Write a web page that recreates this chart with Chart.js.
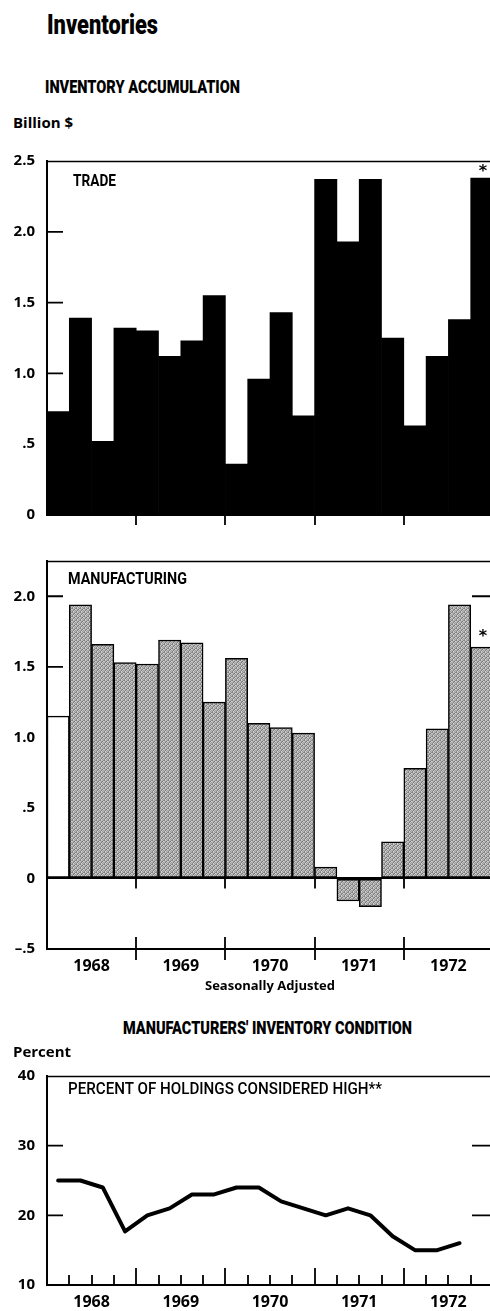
<!DOCTYPE html>
<html>
<head>
<meta charset="utf-8">
<script src="https://cdn.jsdelivr.net/npm/chart.js@4.4.1/dist/chart.umd.min.js"></script>
<style>
  html, body { margin: 0; padding: 0; background: #fff; }
  body { position: relative; width: 490px; height: 1311px; overflow: hidden; }
  .t { position: absolute; white-space: nowrap; color: #000; line-height: 1; transform-origin: 0 0; }
  .narrow { font-family: Roboto, "Liberation Sans", sans-serif; font-weight: 900; }
  .plain { font-family: "Open Sans", "DejaVu Sans", sans-serif; font-weight: bold; }
  canvas { position: absolute; left: 0; }
</style>
</head>
<body>
<div class="t narrow" data-w="111" style="left:47px; top:11px; font-size:28px;">Inventories</div>
<div class="t narrow" data-w="195" style="left:45px; top:78px; font-size:18px;">INVENTORY ACCUMULATION</div>
<div class="t plain" style="left:13px; top:115px; font-size:15px;">Billion $</div>

<canvas id="trade" width="500" height="400" style="top:140px;"></canvas>
<canvas id="mfg" width="500" height="470" style="top:540px;"></canvas>
<canvas id="held" width="500" height="256" style="top:1055px;"></canvas>

<div class="t narrow" data-w="43" style="left:73px; top:173px; font-size:16px; font-weight:bold;">TRADE</div>
<div class="t narrow" data-w="119" style="left:68px; top:570px; font-size:17px; font-weight:bold;">MANUFACTURING</div>
<div class="t narrow" data-w="289" style="left:123px; top:1019px; font-size:18px;">MANUFACTURERS' INVENTORY CONDITION</div>
<div class="t plain" style="left:13px; top:1044px; font-size:15px;">Percent</div>
<div class="t narrow" data-w="314" style="left:68px; top:1080px; font-size:17px; font-weight:500;">PERCENT OF HOLDINGS CONSIDERED HIGH**</div>

<script>
// Quarterly periods, 1968 Q1 through 1972 Q4
const years = ['1968', '1969', '1970', '1971', '1972'];
const quarters = years.flatMap(y => ['Q1', 'Q2', 'Q3', 'Q4'].map(q => y + ' ' + q));

// Inventory accumulation, billion dollars, seasonally adjusted annual rate
const tradeValues = [0.73, 1.39, 0.52, 1.32, 1.30, 1.12, 1.23, 1.55,
                     0.36, 0.96, 1.43, 0.70, 2.37, 1.93, 2.37, 1.25,
                     0.63, 1.12, 1.38, 2.38];
const mfgValues   = [1.15, 1.94, 1.66, 1.53, 1.52, 1.69, 1.67, 1.25,
                     1.56, 1.10, 1.07, 1.03, 0.08, -0.16, -0.20, 0.26,
                     0.78, 1.06, 1.94, 1.64];

// Percent of manufacturers' holdings considered high
const heldHigh = [25, 25, 24, 17.7, 20, 21, 23, 23,
                  24, 24, 22, 21, 20, 21, 20, 17,
                  15, 15, 16, null];

// Value-axis tick labels
const tradeTicks = [0, 0.5, 1.0, 1.5, 2.0, 2.5];
const mfgTicks = [-0.5, 0, 0.5, 1.0, 1.5, 2.0];
const heldTicks = [10, 20, 30, 40];

// Condensed headings: squeeze each heading horizontally to its set width
document.querySelectorAll('.t[data-w]').forEach(el => {
  const w = el.getBoundingClientRect().width;
  const target = parseFloat(el.dataset.w);
  if (w > 0) el.style.transform = 'scaleX(' + (target / w).toFixed(4) + ')';
});

const INK = '#000';
const tickFont = { family: 'Open Sans', weight: 'bold', size: 15 };
const yearFont = { family: 'Open Sans', weight: 'bold', size: 16 };

function fmtBillion(v) {
  if (v === 0) return '0';
  const a = Math.abs(v);
  const s = a < 1 ? String(a).replace(/^0/, '') : a.toFixed(1);
  return (v < 0 ? '\u2013' : '') + s;
}

// Fine halftone used for the manufacturing bars
function halftone(ctx) {
  const tile = document.createElement('canvas');
  tile.width = 4; tile.height = 4;
  const g = tile.getContext('2d');
  const shades = [
    ['#7e7e7e', '#cccccc', '#b4b4b4', '#8c8c8c'],
    ['#c2c2c2', '#969696', '#787878', '#d2d2d2'],
    ['#b0b0b0', '#7c7c7c', '#c8c8c8', '#a2a2a2'],
    ['#8a8a8a', '#d4d4d4', '#9a9a9a', '#bababa']
  ];
  for (let r = 0; r < 4; r++) for (let c = 0; c < 4; c++) {
    g.fillStyle = shades[r][c];
    g.fillRect(c, r, 1, 1);
  }
  return ctx.createPattern(tile, 'repeat');
}

// Frame line on top, short inner value ticks, and period marks along the axes
const frameMarks = {
  id: 'frameMarks',
  beforeDatasetsDraw(chart, args, opts) {
    const { ctx, chartArea: a, scales } = chart;
    const y = scales.y;
    ctx.save();
    ctx.strokeStyle = INK;
    ctx.lineWidth = 1.4;
    ctx.beginPath();
    ctx.moveTo(a.left, a.top + 0.5);
    ctx.lineTo(a.right, a.top + 0.5);
    ctx.stroke();
    ctx.lineWidth = 1.8;
    ctx.beginPath();
    (opts.inner || []).forEach(v => {
      const py = y.getPixelForValue(v);
      ctx.moveTo(a.left, py); ctx.lineTo(a.left + 16, py);
      ctx.moveTo(a.right - 21, py); ctx.lineTo(a.right, py);
    });
    ctx.stroke();
    ctx.restore();
  },
  afterDatasetsDraw(chart, args, opts) {
    const { ctx, scales } = chart;
    const x = scales.x, y = scales.y;
    const n = x.getLabels().length;
    ctx.save();
    ctx.strokeStyle = INK;
    ctx.lineWidth = 1.8;
    ctx.beginPath();
    (opts.cuts || []).forEach(c => {
      const py = y.getPixelForValue(c.at);
      for (let i = 1; i < n; i++) {
        const yearEdge = i % 4 === 0;
        if (!yearEdge && !c.quarterUp) continue;
        const px = Math.round((x.getPixelForValue(i - 1) + x.getPixelForValue(i)) / 2);
        const up = yearEdge ? (c.up || 0) : c.quarterUp;
        const down = yearEdge ? (c.down || 0) : 0;
        ctx.moveTo(px, py - up);
        ctx.lineTo(px, py + down);
      }
    });
    ctx.stroke();
    // preliminary-figure marker over the latest bar
    if (opts.star) {
      const meta = chart.getDatasetMeta(0);
      const el = meta.data[meta.data.length - 1];
      ctx.fillStyle = INK;
      ctx.font = 'bold 16px "DejaVu Sans", sans-serif';
      ctx.textAlign = 'center';
      ctx.textBaseline = 'middle';
      ctx.fillText('*', el.x + opts.star.dx, el.y - opts.star.dy);
    }
    ctx.restore();
  }
};

function valueAxis(min, max, ticks, fmt, grid) {
  return {
    min, max,
    afterBuildTicks: s => { s.ticks = ticks.map(v => ({ value: v })); },
    afterFit: s => { s.width = 47; },
    grid: Object.assign({ display: false, drawTicks: false }, grid || {}),
    border: { display: true, color: INK, width: 2, z: 1 },
    ticks: { font: tickFont, color: INK, padding: 12, callback: fmt }
  };
}

function yearAxis(height, title) {
  return {
    axis: 'x', type: 'category', position: 'bottom', labels: years, offset: true,
    afterFit: s => { s.height = height; },
    grid: { display: false, drawTicks: false },
    border: { display: true, color: INK, width: 2, z: 1 },
    ticks: { font: yearFont, color: INK, padding: 8, autoSkip: false, maxRotation: 0 },
    title: title ? { display: true, text: title, color: INK,
      font: { family: 'Open Sans', weight: 'bold', size: 13 }, padding: { top: 0, bottom: 16 } } : { display: false }
  };
}

const common = {
  responsive: false,
  animation: false,
  devicePixelRatio: 1,
  plugins: { legend: { display: false }, tooltip: { enabled: false } }
};

// Trade
new Chart(document.getElementById('trade'), {
  type: 'bar',
  data: { labels: quarters, datasets: [{
    data: tradeValues, backgroundColor: INK, borderWidth: 0,
    categoryPercentage: 1, barPercentage: 1
  }]},
  options: Object.assign({}, common, {
    layout: { padding: { top: 13, right: 7, bottom: 25, left: 0 } },
    scales: {
      x: { offset: true, afterFit: s => { s.height = 0; },
           grid: { display: false, drawTicks: false }, ticks: { display: false },
           border: { display: true, color: INK, width: 2, z: 1 } },
      y: valueAxis(0, 2.5, tradeTicks, fmtBillion)
    },
    plugins: Object.assign({}, common.plugins, {
      frameMarks: { inner: [1.0, 1.5, 2.0], cuts: [{ at: 0, down: 10 }], star: { dx: 1, dy: 6 } }
    })
  }),
  plugins: [frameMarks]
});

// Manufacturing
const mfgCanvas = document.getElementById('mfg');
const screen = halftone(mfgCanvas.getContext('2d'));
new Chart(mfgCanvas, {
  type: 'bar',
  data: { labels: quarters, datasets: [{
    data: mfgValues,
    backgroundColor: c => c.dataIndex === 0 ? '#fff' : screen,
    borderColor: INK, borderWidth: 1.5, borderSkipped: false,
    categoryPercentage: 1, barPercentage: 1
  }]},
  options: Object.assign({}, common, {
    layout: { padding: { top: 13, right: 7, bottom: 0, left: 0 } },
    scales: {
      x: { display: false, offset: true },
      years: yearAxis(61, 'Seasonally Adjusted'),
      y: valueAxis(-0.5, 2.25, mfgTicks, fmtBillion,
        { display: true, lineWidth: 2, color: c => c.tick && c.tick.value === 0 ? INK : 'rgba(0,0,0,0)' })
    },
    plugins: Object.assign({}, common.plugins, {
      frameMarks: { inner: [0.5, 1.0, 1.5, 2.0],
        cuts: [{ at: 0, down: 10 }, { at: -0.5, up: 12, down: 11 }], star: { dx: 1, dy: 10 } }
    })
  }),
  plugins: [frameMarks]
});

// Manufacturers' inventory condition
new Chart(document.getElementById('held'), {
  type: 'line',
  data: { labels: quarters, datasets: [{
    data: heldHigh, borderColor: INK, borderWidth: 4, pointRadius: 0,
    tension: 0, fill: false, borderJoinStyle: 'round', borderCapStyle: 'round'
  }]},
  options: Object.assign({}, common, {
    layout: { padding: { top: 12, right: 7, bottom: 0, left: 0 } },
    scales: {
      x: { display: false, offset: true },
      years: yearAxis(26, null),
      y: valueAxis(10, 40, heldTicks, v => String(v))
    },
    plugins: Object.assign({}, common.plugins, {
      frameMarks: { inner: [20, 30], cuts: [{ at: 10, up: 17, quarterUp: 10 }] }
    })
  }),
  plugins: [frameMarks]
});
</script>
</body>
</html>
